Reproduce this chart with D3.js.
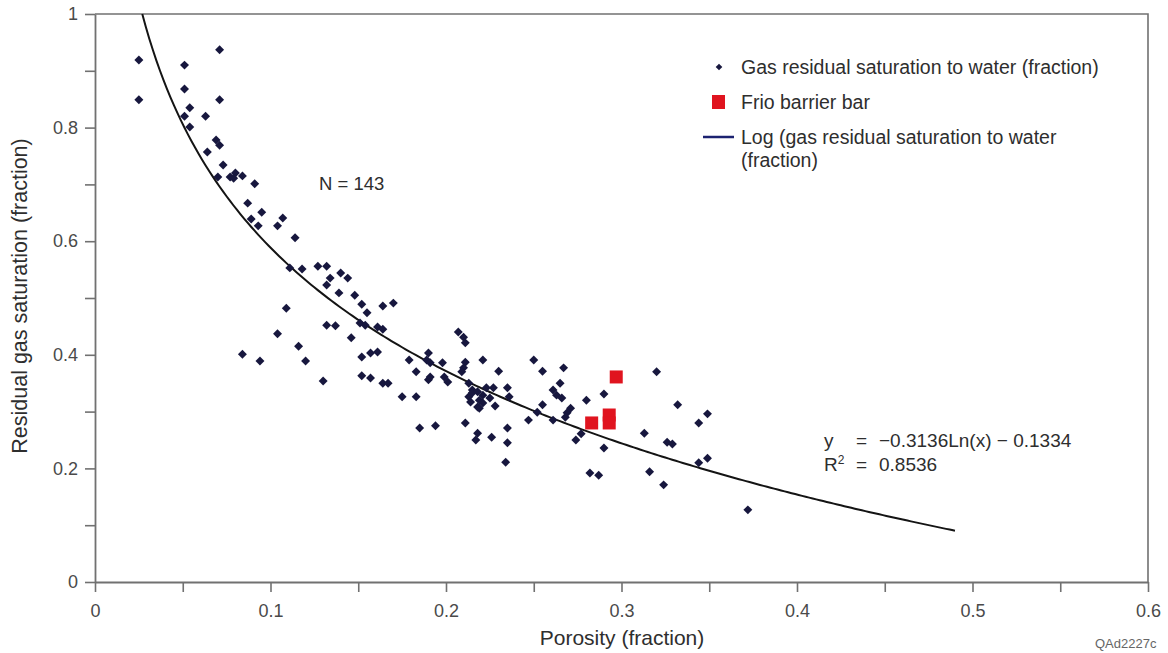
<!DOCTYPE html>
<html lang="en">
  <head>
    <meta charset="UTF-8" />
    <script src="https://d3js.org/d3.v7.min.js"></script>
    <title>Residual gas saturation vs porosity</title>
    <style>
      body { margin: 0; background: #fff; }
      text { font-family: "Liberation Sans", Arial, sans-serif; }
    </style>
  </head>
  <body>
    <div id="chart"></div>
    <script>
      // gas residual saturation to water
      var porosity = [
        0.025, 0.025, 0.071, 0.051, 0.051, 0.071, 0.054, 0.051, 0.063, 0.054,
        0.069, 0.071, 0.064, 0.073, 0.070, 0.077, 0.080, 0.084, 0.079, 0.091,
        0.087, 0.095, 0.089, 0.093, 0.104, 0.107, 0.114, 0.111, 0.118, 0.127,
        0.132, 0.134, 0.132, 0.140, 0.144, 0.139, 0.148, 0.152, 0.155, 0.164,
        0.170, 0.132, 0.137, 0.151, 0.154, 0.161, 0.164, 0.109, 0.104, 0.116,
        0.084, 0.094, 0.120, 0.146, 0.152, 0.157, 0.161, 0.130, 0.152, 0.157,
        0.164, 0.167, 0.207, 0.210, 0.211, 0.179, 0.190, 0.189, 0.191, 0.198,
        0.183, 0.191, 0.190, 0.199, 0.201, 0.211, 0.210, 0.209, 0.221, 0.230,
        0.250, 0.255, 0.175, 0.183, 0.213, 0.215, 0.213, 0.215, 0.218, 0.221,
        0.223, 0.227, 0.219, 0.221, 0.218, 0.225, 0.228, 0.214, 0.219, 0.235,
        0.236, 0.255, 0.252, 0.247, 0.261, 0.185, 0.194, 0.211, 0.218, 0.217,
        0.226, 0.235, 0.235, 0.234, 0.267, 0.265, 0.261, 0.263, 0.266, 0.271,
        0.269, 0.268, 0.280, 0.290, 0.274, 0.277, 0.290, 0.282, 0.287, 0.313,
        0.320, 0.332, 0.349, 0.344, 0.326, 0.329, 0.349, 0.344, 0.316, 0.324,
        0.372
      ];
      var gasSat = [
        0.919, 0.849, 0.937, 0.910, 0.868, 0.849, 0.835, 0.820, 0.820, 0.801,
        0.778, 0.769, 0.757, 0.734, 0.713, 0.713, 0.720, 0.715, 0.711, 0.701,
        0.667, 0.651, 0.639, 0.627, 0.627, 0.641, 0.606, 0.553, 0.551, 0.556,
        0.556, 0.535, 0.523, 0.544, 0.535, 0.509, 0.505, 0.489, 0.474, 0.486,
        0.491, 0.452, 0.451, 0.456, 0.452, 0.449, 0.445, 0.482, 0.437, 0.415,
        0.401, 0.389, 0.389, 0.430, 0.396, 0.403, 0.405, 0.354, 0.363, 0.359,
        0.350, 0.350, 0.440, 0.431, 0.421, 0.391, 0.403, 0.391, 0.386, 0.386,
        0.370, 0.361, 0.356, 0.361, 0.352, 0.387, 0.377, 0.370, 0.391, 0.371,
        0.391, 0.371, 0.326, 0.326, 0.350, 0.338, 0.326, 0.333, 0.335, 0.329,
        0.342, 0.342, 0.320, 0.315, 0.308, 0.324, 0.310, 0.317, 0.306, 0.342,
        0.326, 0.312, 0.299, 0.285, 0.285, 0.271, 0.275, 0.280, 0.262, 0.250,
        0.255, 0.271, 0.245, 0.211, 0.377, 0.350, 0.338, 0.329, 0.324, 0.306,
        0.298, 0.290, 0.320, 0.331, 0.250, 0.261, 0.236, 0.192, 0.188, 0.262,
        0.370, 0.312, 0.296, 0.280, 0.246, 0.243, 0.218, 0.210, 0.194, 0.171,
        0.127
      ];

      // Frio barrier bar samples
      var frioPorosity = [0.297, 0.283, 0.293, 0.293];
      var frioSat = [0.361, 0.280, 0.294, 0.280];

      // logarithmic fit shown on the chart
      var fitSlope = -0.3136;
      var fitIntercept = -0.1334;
      var fitR2 = 0.8536;
      var fitXmax = 0.49;
      var sampleCount = 143;

      var xTicks = [0, 0.05, 0.1, 0.15, 0.2, 0.25, 0.3, 0.35, 0.4, 0.45, 0.5, 0.55, 0.6];
      var yTicks = [0, 0.1, 0.2, 0.3, 0.4, 0.5, 0.6, 0.7, 0.8, 0.9, 1];

      var width = 1168, height = 653;
      var plotLeft = 95, plotRight = 1148, plotTop = 14, plotBottom = 582;

      var svg = d3.select("#chart").append("svg")
        .attr("width", width)
        .attr("height", height);

      var x = d3.scaleLinear().domain([0, 0.6]).range([plotLeft, plotRight]);
      var y = d3.scaleLinear().domain([0, 1]).range([plotBottom, plotTop]);

      var axisColor = "#717171";
      var labelColor = "#4a4a4a";
      var textColor = "#2e2e2e";

      // frame (top and right)
      svg.append("path")
        .attr("d", "M" + plotLeft + "," + plotTop + "H" + plotRight + "V" + plotBottom)
        .attr("fill", "none")
        .attr("stroke", axisColor)
        .attr("stroke-width", 1.6);

      // axes
      function lbl(d) {
        var r = Math.round(d * 10);
        if (Math.abs(d * 10 - r) > 1e-6) return "";
        return r === 0 ? "0" : (r === 10 ? "1" : (r / 10).toFixed(1));
      }

      var xAxis = svg.append("g")
        .attr("transform", "translate(0," + plotBottom + ")")
        .call(d3.axisBottom(x).tickValues(xTicks).tickSize(10).tickSizeOuter(0).tickPadding(12)
          .tickFormat(function(d) { return lbl(d); }));

      var yAxis = svg.append("g")
        .attr("transform", "translate(" + plotLeft + ",0)")
        .call(d3.axisLeft(y).tickValues(yTicks).tickSize(10).tickSizeOuter(0).tickPadding(7)
          .tickFormat(function(d, i) { return i % 2 === 0 ? lbl(d) : ""; }));

      [xAxis, yAxis].forEach(function(g) {
        g.select(".domain").attr("stroke", axisColor).attr("stroke-width", 1.8);
        g.selectAll(".tick line").attr("stroke", axisColor).attr("stroke-width", 1.6);
        g.selectAll(".tick text")
          .attr("fill", labelColor)
          .style("font-size", "18px")
          .style("font-family", "'Liberation Sans', Arial, sans-serif");
      });

      // axis titles
      svg.append("text")
        .attr("x", 622)
        .attr("y", 645)
        .attr("text-anchor", "middle")
        .attr("fill", textColor)
        .style("font-size", "21px")
        .text("Porosity (fraction)");

      svg.append("text")
        .attr("transform", "translate(27,296) rotate(-90)")
        .attr("text-anchor", "middle")
        .attr("fill", textColor)
        .style("font-size", "21.5px")
        .text("Residual gas saturation (fraction)");

      // fitted log curve
      var xStart = Math.exp((1 - fitIntercept) / fitSlope);
      var curveX = d3.range(xStart, fitXmax, 0.002).concat([fitXmax]);
      var line = d3.line()
        .x(function(d) { return x(d); })
        .y(function(d) { return y(fitSlope * Math.log(d) + fitIntercept); });

      svg.append("path")
        .datum(curveX)
        .attr("d", line)
        .attr("fill", "none")
        .attr("stroke", "#141414")
        .attr("stroke-width", 2);

      // data points (diamonds = squares turned 45 degrees)
      var diamond = d3.symbol().type(d3.symbolSquare).size(40);
      svg.append("g")
        .selectAll("path")
        .data(d3.range(porosity.length))
        .enter()
        .append("path")
          .attr("d", diamond)
          .attr("transform", function(i) {
            return "translate(" + x(porosity[i]) + "," + y(gasSat[i]) + ") rotate(45)";
          })
          .attr("fill", "#17173e");

      var sq = 13;
      svg.append("g")
        .selectAll("rect")
        .data(d3.range(frioPorosity.length))
        .enter()
        .append("rect")
          .attr("x", function(i) { return x(frioPorosity[i]) - sq / 2; })
          .attr("y", function(i) { return y(frioSat[i]) - sq / 2; })
          .attr("width", sq)
          .attr("height", sq)
          .attr("fill", "#e0141f");

      // N label
      svg.append("text")
        .attr("x", 319)
        .attr("y", 190)
        .attr("fill", textColor)
        .style("font-size", "18.5px")
        .text("N = " + sampleCount);

      // legend
      var lg = svg.append("g").attr("fill", textColor).style("font-size", "19.5px");
      lg.append("path")
        .attr("d", d3.symbol().type(d3.symbolSquare).size(22))
        .attr("transform", "translate(719,67) rotate(45)")
        .attr("fill", "#17173e");
      lg.append("text").attr("x", 741).attr("y", 74).text("Gas residual saturation to water (fraction)");
      lg.append("rect").attr("x", 712).attr("y", 95).attr("width", 13).attr("height", 14).attr("fill", "#e0141f");
      lg.append("text").attr("x", 741).attr("y", 109).text("Frio barrier bar");
      lg.append("line").attr("x1", 703).attr("x2", 734).attr("y1", 137).attr("y2", 137)
        .attr("stroke", "#1c2270").attr("stroke-width", 2.5);
      lg.append("text").attr("x", 741).attr("y", 144).text("Log (gas residual saturation to water");
      lg.append("text").attr("x", 741).attr("y", 167).text("(fraction)");

      // equation
      var eq = svg.append("g").attr("fill", textColor).style("font-size", "19px");
      eq.append("text").attr("x", 824).attr("y", 447).text("y");
      eq.append("text").attr("x", 856).attr("y", 447).text("=");
      eq.append("text").attr("x", 879).attr("y", 447)
        .text("\u2212" + Math.abs(fitSlope).toFixed(4) + "Ln(x) \u2212 " + Math.abs(fitIntercept).toFixed(4));
      var r2 = eq.append("text").attr("x", 824).attr("y", 471);
      r2.append("tspan").text("R");
      r2.append("tspan").attr("dy", -7).style("font-size", "12px").text("2");
      eq.append("text").attr("x", 856).attr("y", 471).text("=");
      eq.append("text").attr("x", 879).attr("y", 471).text(fitR2.toFixed(4));

      // figure code
      svg.append("text")
        .attr("x", 1095)
        .attr("y", 648)
        .attr("fill", "#666")
        .style("font-size", "13px")
        .text("QAd2227c");
    </script>
  </body>
</html>
